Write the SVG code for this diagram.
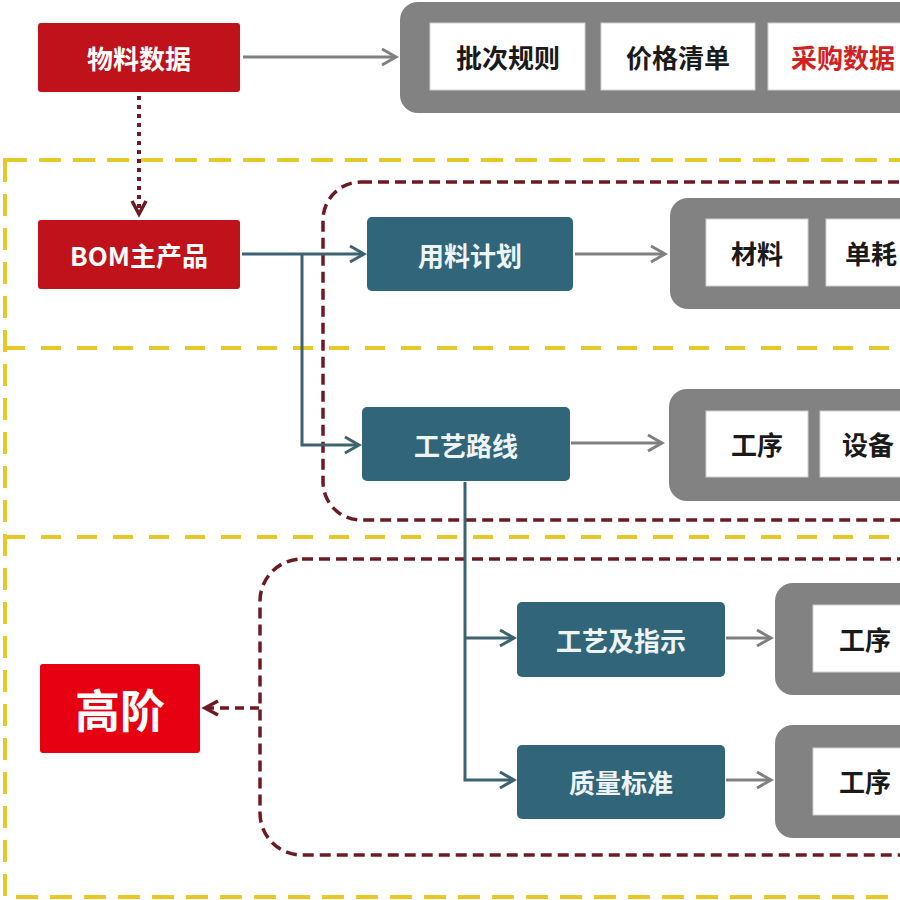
<svg xmlns="http://www.w3.org/2000/svg" width="900" height="900" viewBox="0 0 900 900">
<style>
text{font-family:"Noto Sans CJK SC","Noto Sans",sans-serif;font-weight:bold;text-anchor:middle;dominant-baseline:central}
.red{fill:#c0121a}
.hi{fill:#e60012}
.teal{fill:#31667a}
.gray{fill:#828282}
.wb{fill:#ffffff;stroke:#d0d0d0;stroke-width:1}
.wt{fill:#ffffff;font-size:26px}
.tt{fill:#eef4f4;font-size:26px}
.bt{fill:#1a1a1a;font-size:26px}
.yl{fill:none;stroke:#e8c828;stroke-width:4;stroke-dasharray:22 12}
.rd{fill:none;stroke:#6e1a22;stroke-width:3.5;stroke-dasharray:11 6}
.ga{fill:none;stroke:#808080;stroke-width:3}
.ta{fill:none;stroke:#3d6270;stroke-width:3}
</style>
<defs>
<marker id="mg" markerUnits="userSpaceOnUse" markerWidth="20" markerHeight="24" refX="16" refY="10" orient="auto"><path d="M2,2 L16,10 L2,18" fill="none" stroke="#808080" stroke-width="3"/></marker>
<marker id="mt" markerUnits="userSpaceOnUse" markerWidth="20" markerHeight="24" refX="16" refY="10" orient="auto"><path d="M2,2 L16,10 L2,18" fill="none" stroke="#3d6270" stroke-width="3"/></marker>
<marker id="mr" markerUnits="userSpaceOnUse" markerWidth="20" markerHeight="24" refX="15" refY="10" orient="auto"><path d="M2,3 L15,10 L2,17" fill="none" stroke="#6e1a22" stroke-width="3.5"/></marker>
</defs>
<rect width="900" height="900" fill="#ffffff"/>
<g id="zones">
<rect class="yl" x="5" y="160" width="940" height="737"/>
<line class="yl" x1="5" y1="348" x2="900" y2="348" style="stroke-dasharray:20 16"/>
<line class="yl" x1="5" y1="537" x2="900" y2="537" style="stroke-dasharray:20 16"/>
<rect class="rd" x="323" y="182" width="640" height="338" rx="38"/>
<rect class="rd" x="260" y="559" width="700" height="296" rx="42"/>
</g>
<g id="connectors">
<line class="ga" x1="243" y1="57" x2="396" y2="57" marker-end="url(#mg)"/>
<line x1="139" y1="96" x2="139" y2="214" fill="none" stroke="#6e1a22" stroke-width="4" stroke-dasharray="4 5" marker-end="url(#mr)"/>
<line class="ta" x1="242" y1="254" x2="364" y2="254" marker-end="url(#mt)"/>
<polyline class="ta" points="302,254 302,445 359,445" marker-end="url(#mt)"/>
<line class="ga" x1="575" y1="254" x2="665" y2="254" marker-end="url(#mg)"/>
<line class="ga" x1="571" y1="443" x2="662" y2="443" marker-end="url(#mg)"/>
<polyline class="ta" points="465,482 465,780 514,780" marker-end="url(#mt)"/>
<line class="ta" x1="465" y1="638" x2="514" y2="638" marker-end="url(#mt)"/>
<line class="ga" x1="726" y1="638" x2="771" y2="638" marker-end="url(#mg)"/>
<line class="ga" x1="726" y1="780" x2="771" y2="780" marker-end="url(#mg)"/>
<line x1="259" y1="708" x2="205" y2="708" fill="none" stroke="#6e1a22" stroke-width="3.5" stroke-dasharray="9 6" marker-end="url(#mr)"/>
</g>
<g id="n-wuliao"><rect class="red" x="38" y="23" width="202" height="69" rx="3"/><text class="wt" x="139" y="57">物料数据</text></g>
<g id="n-bom"><rect class="red" x="38" y="220" width="202" height="69" rx="3"/><text class="wt" x="139" y="254">BOM主产品</text></g>
<g id="n-gaojie"><rect class="hi" x="40" y="664" width="160" height="89" rx="3"/><text class="wt" x="120" y="708" style="font-size:45px">高阶</text></g>
<g id="g-top"><rect class="gray" x="400" y="2" width="560" height="111" rx="18"/>
<rect class="wb" x="430" y="23" width="155" height="67"/><text class="bt" x="508" y="56">批次规则</text>
<rect class="wb" x="601" y="23" width="154" height="67"/><text class="bt" x="678" y="56">价格清单</text>
<rect class="wb" x="768" y="23" width="150" height="67"/><text class="bt" x="843" y="56" style="fill:#d42020">采购数据</text></g>
<g id="n-yongliao"><rect class="teal" x="367" y="217" width="206" height="74" rx="5"/><text class="tt" x="470" y="254">用料计划</text></g>
<g id="n-gongyi"><rect class="teal" x="362" y="407" width="208" height="74" rx="5"/><text class="tt" x="466" y="444">工艺路线</text></g>
<g id="n-zhishi"><rect class="teal" x="517" y="602" width="208" height="75" rx="5"/><text class="tt" x="621" y="639">工艺及指示</text></g>
<g id="n-zhiliang"><rect class="teal" x="517" y="745" width="208" height="74" rx="5"/><text class="tt" x="621" y="781">质量标准</text></g>
<g id="g-cailiao"><rect class="gray" x="670" y="198" width="290" height="111" rx="18"/>
<rect class="wb" x="706" y="219" width="102" height="67"/><text class="bt" x="757" y="252">材料</text>
<rect class="wb" x="826" y="219" width="90" height="67"/><text class="bt" x="871" y="252">单耗</text></g>
<g id="g-gongxu"><rect class="gray" x="669" y="389" width="290" height="112" rx="18"/>
<rect class="wb" x="706" y="411" width="102" height="66"/><text class="bt" x="757" y="443">工序</text>
<rect class="wb" x="820" y="411" width="96" height="66"/><text class="bt" x="868" y="443">设备</text></g>
<g id="g-gongxu2"><rect class="gray" x="775" y="583" width="190" height="112" rx="18"/>
<rect class="wb" x="813" y="605" width="105" height="67"/><text class="bt" x="865" y="638">工序</text></g>
<g id="g-gongxu3"><rect class="gray" x="775" y="725" width="190" height="113" rx="18"/>
<rect class="wb" x="813" y="748" width="105" height="67"/><text class="bt" x="865" y="780">工序</text></g>
</svg>
